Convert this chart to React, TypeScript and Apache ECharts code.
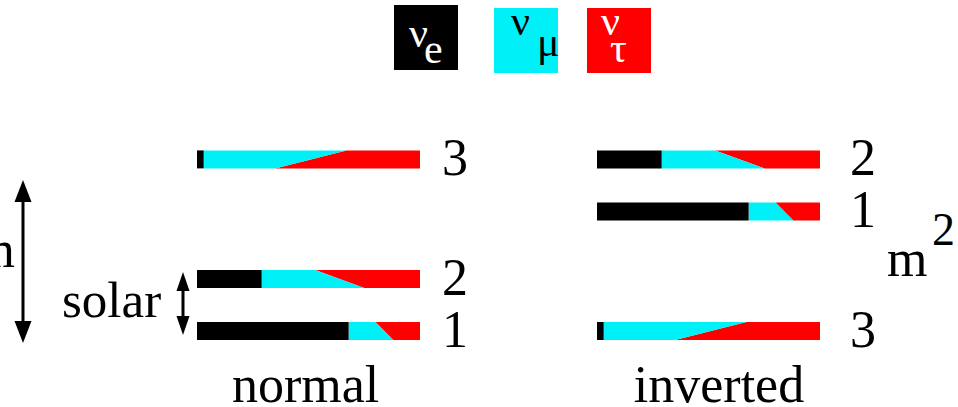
import React, { useEffect, useRef } from "react";
import * as echarts from "echarts";

// Mass eigenstates and their flavour content (ν_e share, ν_μ share at the
// upper and lower edge of each bar; ν_τ takes the remainder).
const massStates = ["1", "2", "3"];
const nuEShare = [0.68, 0.29, 0.03];
const nuMuShareUpper = [0.12, 0.24, 0.64];
const nuMuShareLower = [0.2, 0.46, 0.32];

// Mass-squared levels (arbitrary units) for each ordering.
const hierarchies = ["normal", "inverted"];
const normalMassSq = [0, 1, 3.3];
const invertedMassSq = [2.3, 3.3, 0];

const flavourNames = ["e", "μ", "τ"];
const flavourColors = ["#000000", "#00f0f8", "#ff0000"];

const FAMILY = "'Liberation Serif', Tinos, 'Times New Roman', 'DejaVu Serif', serif";
const FONT = (size: number) => `${size}px ${FAMILY}`;

const makeRenderItem = (labelDx: number) => (params: any, api: any) => {
  const m2 = api.value(0);
  const e = api.value(1);
  const muUp = api.value(2);
  const muLo = api.value(3);
  const [x0, yc] = api.coord([0, m2]);
  const [x1] = api.coord([1, m2]);
  const xe = api.coord([e, m2])[0];
  const xTop = api.coord([e + muUp, m2])[0];
  const xBot = api.coord([e + muLo, m2])[0];
  const half = 9;
  const top = yc - half;
  const bot = yc + half;
  return {
    type: "group",
    children: [
      {
        type: "polygon",
        shape: { points: [[xTop, top], [x1, top], [x1, bot], [xBot, bot]] },
        style: { fill: flavourColors[2] },
      },
      {
        type: "polygon",
        shape: { points: [[xe, top], [xTop, top], [xBot, bot], [xe, bot]] },
        style: { fill: flavourColors[1] },
      },
      {
        type: "rect",
        shape: { x: x0, y: top, width: xe - x0, height: bot - top },
        style: { fill: flavourColors[0] },
      },
      {
        type: "text",
        x: x1 + labelDx,
        y: yc - 28,
        style: { text: massStates[params.dataIndex], font: FONT(52), fill: "#000" },
      },
    ],
  };
};

const doubleArrow = (x: number, y1: number, y2: number, headLen: number, headHalf: number) => [
  {
    type: "line",
    shape: { x1: x, y1: y1 + headLen - 2, x2: x, y2: y2 - headLen + 2 },
    style: { stroke: "#000", lineWidth: 3 },
  },
  {
    type: "polygon",
    shape: { points: [[x, y1], [x - headHalf, y1 + headLen], [x + headHalf, y1 + headLen]] },
    style: { fill: "#000" },
  },
  {
    type: "polygon",
    shape: { points: [[x, y2], [x - headHalf, y2 - headLen], [x + headHalf, y2 - headLen]] },
    style: { fill: "#000" },
  },
];

export default function App() {
  const ref = useRef<HTMLDivElement>(null);

  useEffect(() => {
    if (!ref.current) return;
    document.body.style.margin = "0";
    const chart = echarts.init(ref.current, undefined, { renderer: "svg" });

    const legendBoxes = [
      { x: 394, y: 5 },
      { x: 494, y: 8 },
      { x: 587, y: 8 },
    ];
    const legendText = ["#fff", "#000", "#fff"];
    const legendNu = [
      [409, 12],
      [511, 0],
      [601, 0],
    ];
    const legendSub = [
      [424, 28],
      [537, 21],
      [610, 27],
    ];

    const legendGraphics: any[] = [];
    flavourNames.forEach((name, i) => {
      legendGraphics.push({
        type: "rect",
        shape: { x: legendBoxes[i].x, y: legendBoxes[i].y, width: 64, height: 65 },
        style: { fill: flavourColors[i] },
      });
      legendGraphics.push({
        type: "text",
        x: legendNu[i][0],
        y: legendNu[i][1],
        style: { text: "ν", font: FONT(42), fill: legendText[i] },
      });
      legendGraphics.push({
        type: "text",
        x: legendSub[i][0],
        y: legendSub[i][1],
        style: { text: name, font: FONT(42), fill: legendText[i] },
      });
    });

    chart.setOption({
      animation: false,
      textStyle: { fontFamily: FAMILY },
      grid: [
        { left: 197, width: 223, top: 123, height: 234 },
        { left: 597, width: 223, top: 123, height: 234 },
      ],
      xAxis: [
        { gridIndex: 0, type: "value", min: 0, max: 1, show: false },
        { gridIndex: 1, type: "value", min: 0, max: 1, show: false },
      ],
      yAxis: [
        { gridIndex: 0, type: "value", min: -0.5, max: 4, show: false },
        { gridIndex: 1, type: "value", min: -0.5, max: 4, show: false },
      ],
      series: [
        {
          name: hierarchies[0],
          type: "custom",
          xAxisIndex: 0,
          yAxisIndex: 0,
          encode: { x: [1, 2, 3], y: 0 },
          data: buildRows(normalMassSq),
          renderItem: makeRenderItem(22),
        },
        {
          name: hierarchies[1],
          type: "custom",
          xAxisIndex: 1,
          yAxisIndex: 1,
          encode: { x: [1, 2, 3], y: 0 },
          data: buildRows(invertedMassSq),
          renderItem: makeRenderItem(30),
        },
      ],
      graphic: [
        ...legendGraphics,
        { type: "text", x: 232, y: 358, style: { text: hierarchies[0], font: FONT(52), fill: "#000" } },
        {
          type: "text",
          x: 719,
          y: 358,
          style: { text: hierarchies[1], font: FONT(52), fill: "#000", align: "center" },
        },
        {
          type: "text",
          x: 62,
          y: 300,
          style: { text: "solar", font: FONT(51), fill: "#000", verticalAlign: "middle" },
        },
        {
          type: "text",
          x: 15,
          y: 249,
          style: { text: "atm", font: FONT(52), fill: "#000", align: "right", verticalAlign: "middle" },
        },
        { type: "text", x: 887, y: 232, style: { text: "m", font: FONT(52), fill: "#000" } },
        { type: "text", x: 932, y: 206, style: { text: "2", font: FONT(46), fill: "#000" } },
        ...doubleArrow(23, 180, 343, 22, 8.5),
        ...doubleArrow(183, 272, 335, 19, 6.5),
      ],
    });

    return () => chart.dispose();
  }, []);

  return <div ref={ref} style={{ width: 958, height: 407, fontFamily: FAMILY }} />;
}

function buildRows(levels: number[]) {
  return massStates.map((_, i) => [levels[i], nuEShare[i], nuMuShareUpper[i], nuMuShareLower[i]]);
}
